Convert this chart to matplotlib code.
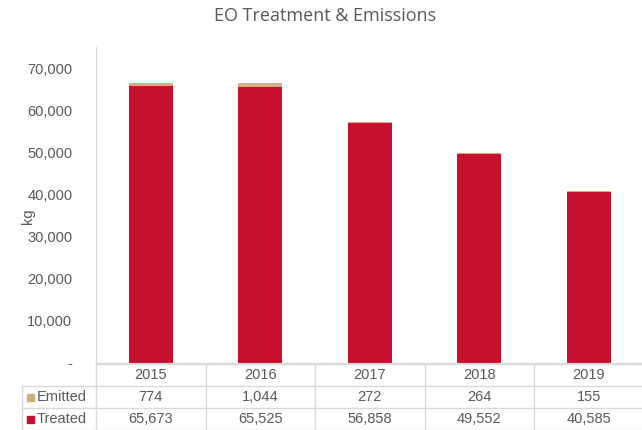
import numpy as np
import matplotlib.pyplot as plt
import matplotlib.transforms as mtransforms
from matplotlib.lines import Line2D
from matplotlib.patches import Rectangle

years = ["2015", "2016", "2017", "2018", "2019"]
emitted = [774, 1044, 272, 264, 155]
treated = [65673, 65525, 56858, 49552, 40585]
yticks = [0, 10000, 20000, 30000, 40000, 50000, 60000, 70000]

RED = "#C8102E"
TAN = "#CDB27F"
TXT = "#595959"
GRID = "#D9D9D9"

W, H = 642, 430
fig = plt.figure(figsize=(W / 100, H / 100), dpi=100)
plt.rcParams["font.family"] = ["Liberation Sans", "DejaVu Sans"]

def fy(py):
    return 1 - py / H

ax = fig.add_axes([96 / W, fy(363), (643.5 - 96) / W, (363 - 47) / H])
x = np.arange(len(years))
ax.bar(x, treated, width=0.4, color=RED, zorder=2)
ax.bar(x, emitted, bottom=treated, width=0.4, color=TAN, zorder=2)
ax.set_xlim(-0.5, len(years) - 0.5)
ax.set_ylim(0, 75000)
ax.set_yticks(yticks)
ax.set_yticklabels(["-" if v == 0 else f"{v:,}" for v in yticks], color=TXT, fontsize=10.5)
ax.set_xticks([])
ax.tick_params(axis="y", length=0, pad=17)
for s in ["top", "right"]:
    ax.spines[s].set_visible(False)
ax.spines["left"].set_color(GRID)
ax.spines["bottom"].set_color(GRID)

fig.text(28 / W, fy(216), "kg", rotation=90, ha="center", va="center",
         fontsize=10.5, color=TXT)
fig.text(325 / W, fy(16), "EO Treatment & Emissions", ha="center", va="center",
         fontsize=13, color=TXT, family=["Open Sans", "DejaVu Sans"])

# data table under the axis
tr = mtransforms.blended_transform_factory(ax.transData, fig.transFigure)
row_tops = [364, 386, 408, 430]
label_left = 22
for i, py in enumerate(row_tops):
    x0 = label_left if i >= 1 else 96
    fig.add_artist(Line2D([x0 / W, 1], [fy(py), fy(py)], transform=fig.transFigure,
                          color=GRID, lw=1))
for b in np.arange(len(years) + 1) - 0.5:
    fig.add_artist(Line2D([b, b], [fy(364), fy(430)], transform=tr, color=GRID, lw=1))
fig.add_artist(Line2D([label_left / W] * 2, [fy(386), fy(430)], transform=fig.transFigure,
                      color=GRID, lw=1))

rows = [(None, years), (("Emitted", TAN), [f"{v:,}" for v in emitted]),
        (("Treated", RED), [f"{v:,}" for v in treated])]
for i, (lab, vals) in enumerate(rows):
    yc = fy((row_tops[i] + row_tops[i + 1]) / 2)
    for xi, v in zip(x, vals):
        fig.text(xi, yc, v, transform=tr, ha="center", va="center", fontsize=10.5, color=TXT)
    if lab:
        name, col = lab
        fig.add_artist(Rectangle((27 / W, yc - 3.5 / H), 7 / W, 7 / H,
                                 transform=fig.transFigure, color=col))
        fig.text(37 / W, yc, name, ha="left", va="center", fontsize=10.5, color=TXT)

fig.savefig("out.png", dpi=100)
